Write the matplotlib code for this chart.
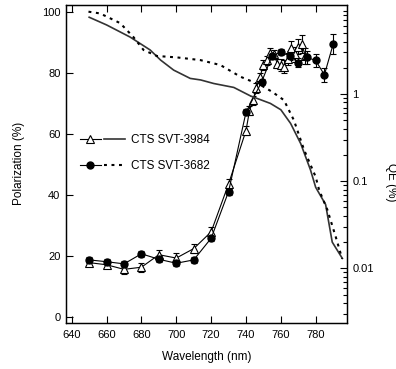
import matplotlib
matplotlib.use("Agg")
import matplotlib.pyplot as plt
from matplotlib.legend_handler import HandlerTuple
from matplotlib.ticker import FixedLocator, LogLocator, NullFormatter, FixedFormatter

plt.rcParams['font.family'] = ['Liberation Sans', 'DejaVu Sans']

# Polarization, CTS SVT-3984 (open triangles)
wl_tri = [650, 660, 670, 680, 690, 700, 710, 720, 730, 740, 742, 744, 746, 748, 750,
          752, 754, 756, 758, 760, 762, 764, 766, 768, 770, 772, 774]
pol_tri = [17.7, 17.0, 15.5, 16.2, 20.3, 19.2, 22.3, 27.8, 43.5, 61.0, 67.5, 71.0, 75.0,
           78.5, 82.5, 84.0, 86.5, 86.0, 83.0, 82.5, 82.0, 84.5, 88.0, 86.0, 88.5, 89.5, 85.5]
err_tri = [1.0, 1.0, 1.5, 1.5, 1.5, 1.5, 1.5, 1.5, 1.5, 1.5, 1.5, 1.5, 1.5,
           1.5, 1.5, 1.5, 1.5, 1.5, 1.5, 2.0, 2.0, 2.0, 2.5, 2.5, 2.5, 3.0, 2.5]

# Polarization, CTS SVT-3682 (filled circles)
wl_circ = [650, 660, 670, 680, 690, 700, 710, 720, 730, 740, 749, 755, 760, 765, 770,
           775, 780, 785, 790]
pol_circ = [18.6, 18.0, 17.3, 20.6, 18.8, 17.5, 18.6, 25.7, 41.0, 67.0, 77.0, 85.6, 86.7,
            85.5, 83.3, 85.0, 84.0, 79.3, 89.3]
err_circ = [1.0, 1.0, 1.0, 1.0, 1.0, 1.0, 1.0, 1.0, 1.0, 1.0, 1.0, 1.0, 1.0,
            1.5, 1.5, 2.0, 2.0, 2.3, 3.3]

# QE (%), CTS SVT-3984 (solid)
wl_qe1 = [650, 660, 673.5, 685, 691, 698.5, 708, 714, 721.5, 733, 742.6, 754, 760, 765.6,
          771.4, 777, 780, 785.7, 789.5, 795.3]
qe1 = [7.6, 6.2, 4.5, 3.2, 2.45, 1.88, 1.51, 1.45, 1.32, 1.19, 0.95, 0.78, 0.66, 0.46,
       0.27, 0.135, 0.085, 0.054, 0.020, 0.013]

# QE (%), CTS SVT-3682 (dotted)
wl_qe2 = [649.6, 656.3, 667.8, 675.4, 681.2, 688.9, 700.4, 713.8, 725.3, 736.8, 748.3,
          755, 761.8, 767.5, 773.3, 780, 782, 786.7, 791.5, 795.2]
qe2 = [8.8, 8.4, 6.5, 4.5, 3.2, 2.73, 2.63, 2.45, 2.15, 1.58, 1.27, 1.06, 0.85, 0.50,
       0.23, 0.112, 0.079, 0.047, 0.023, 0.0129]

labels = ['CTS SVT-3984', 'CTS SVT-3682']

fig = plt.figure(figsize=(3.96, 3.69), dpi=100)
ax = fig.add_axes([66/396, 1-322.7/369, 280.7/396, 317.7/369])
ax2 = ax.twinx()

eb1 = ax.errorbar(wl_tri, pol_tri, yerr=err_tri, color='black', lw=0.8, marker='^',
                  ms=6.2, mfc='white', mec='black', mew=0.8, capsize=2.5, elinewidth=0.8,
                  capthick=0.8)
eb2 = ax.errorbar(wl_circ, pol_circ, yerr=err_circ, color='black', lw=0.8, marker='o',
                  ms=5, mfc='black', mec='black', capsize=2.5, elinewidth=0.8,
                  capthick=0.8)

l1, = ax2.plot(wl_qe1, qe1, color='#333333', lw=1.2, ls='-')
l2, = ax2.plot(wl_qe2, qe2, color='black', lw=1.5, ls=(0, (1.4, 2.2)))

ax.set_xlim(636.7, 797.8)
ax.set_ylim(-2.0, 102.2)
ax.set_xticks([640, 660, 680, 700, 720, 740, 760, 780])
ax.set_yticks([0, 20, 40, 60, 80, 100])
ax.tick_params(axis='x', direction='in', top=True, length=5, width=0.8, labelsize=8, pad=5)
ax.tick_params(axis='y', direction='in', length=5, width=0.8, labelsize=8, pad=4)

ax2.set_yscale('log')
ax2.set_ylim(0.00238, 10.5)
ax2.yaxis.set_major_locator(FixedLocator([0.01, 0.1, 1]))
ax2.yaxis.set_major_formatter(FixedFormatter(['0.01', '0.1', '1']))
ax2.yaxis.set_minor_locator(LogLocator(base=10, subs=range(2, 10)))
ax2.yaxis.set_minor_formatter(NullFormatter())
ax2.tick_params(axis='y', which='major', direction='in', length=5, width=0.8,
                labelsize=8, pad=4)
ax2.tick_params(axis='y', which='minor', direction='in', length=3, width=0.8)

for a in (ax, ax2):
    for s in a.spines.values():
        s.set_linewidth(0.9)

ax.set_xlabel('Wavelength (nm)', fontsize=8.5, labelpad=8)
ax.set_ylabel('Polarization (%)', fontsize=8.5, labelpad=12)
fig.text(391/396, 1-182/369, 'QE (%)', rotation=270, fontsize=8.5,
         ha='center', va='center')

m1 = plt.Line2D([], [], color='black', lw=0.8, marker='^', ms=6.2, mfc='white', mec='black',
                mew=0.8)
m2 = plt.Line2D([], [], color='black', lw=0.8, marker='o', ms=5, mfc='black')
leg = ax2.legend([(m1, l1), (m2, l2)], labels,
                 handler_map={tuple: HandlerTuple(ndivide=None, pad=0.3)},
                 loc='upper left', bbox_to_anchor=(0.05, 0.593), borderaxespad=0,
                 borderpad=0, frameon=False, fontsize=8.5, handlelength=3.8,
                 handletextpad=0.55, labelspacing=1.15)

fig.savefig('out.png', dpi=100)
